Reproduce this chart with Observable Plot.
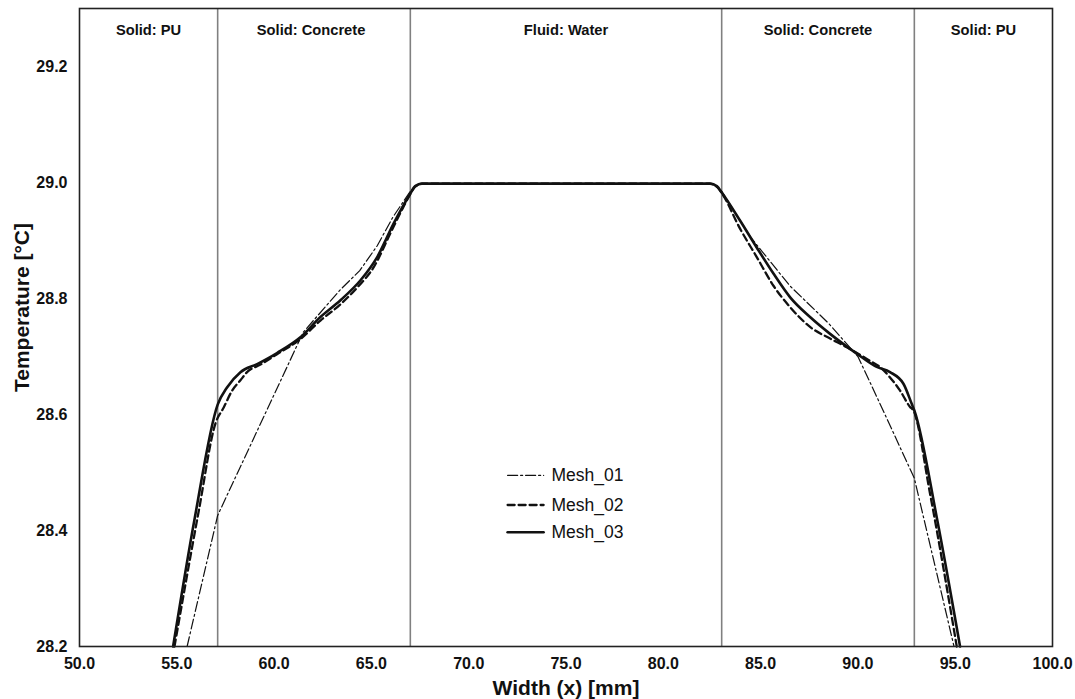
<!DOCTYPE html>
<html>
<head>
<meta charset="utf-8">
<script src="https://cdn.jsdelivr.net/npm/d3@7"></script>
<script src="https://cdn.jsdelivr.net/npm/@observablehq/plot@0.6"></script>
<style>
  html, body { margin: 0; padding: 0; background: #fff; }
  #chart { width: 1075px; height: 699px; }
</style>
</head>
<body>
<div id="chart"></div>
<script>
// ---- data ----
const xTicks = [50, 55, 60, 65, 70, 75, 80, 85, 90, 95, 100];
const yTicks = [28.2, 28.4, 28.6, 28.8, 29.0, 29.2];

const regionLabels = ["Solid: PU", "Solid: Concrete", "Fluid: Water", "Solid: Concrete", "Solid: PU"];
const regionLabelX = [53.55, 61.9, 75.0, 87.95, 96.45];
const boundaries = [57.1, 67.0, 83.0, 92.9];

const seriesNames = ["Mesh_01", "Mesh_02", "Mesh_03"];

const x01 = [55.53, 57.1, 61.5, 63.4, 64.4, 65.3, 66.1, 67.0, 67.5, 82.5, 83.0, 84.5, 86.5, 88.5, 90.0, 91.2, 92.9, 94.94];
const y01 = [28.2, 28.426, 28.742, 28.815, 28.848, 28.891, 28.94, 28.985, 28.998, 28.998, 28.985, 28.905, 28.822, 28.757, 28.70, 28.614, 28.49, 28.2];

const x02 = [54.88, 56.13, 56.99, 57.41, 57.84, 58.27, 58.61, 59.3, 60.15, 61.35, 62.38, 63.41, 64.3, 65.12, 65.97, 66.6, 67.0, 67.25, 67.6, 82.4, 82.75, 83.0, 83.95, 84.81, 85.66, 86.52, 87.54, 88.57, 89.43, 90.5, 91.2, 91.65, 92.17, 92.68, 92.85, 93.71, 95.08];
const y02 = [28.2, 28.434, 28.585, 28.612, 28.641, 28.659, 28.673, 28.686, 28.704, 28.73, 28.762, 28.79, 28.82, 28.854, 28.912, 28.955, 28.98, 28.993, 28.998, 28.998, 28.993, 28.982, 28.92, 28.871, 28.822, 28.785, 28.751, 28.731, 28.716, 28.695, 28.68, 28.664, 28.641, 28.613, 28.607, 28.463, 28.2];

const x03 = [54.81, 55.93, 57.1, 57.59, 58.27, 59.13, 60.15, 61.35, 62.38, 63.41, 64.43, 65.29, 66.14, 67.0, 67.25, 67.6, 75.0, 82.4, 82.75, 83.04, 83.95, 84.8, 85.66, 86.52, 87.54, 88.57, 89.94, 90.97, 91.65, 92.34, 92.77, 92.9, 94.05, 95.25];
const y03 = [28.2, 28.423, 28.617, 28.647, 28.673, 28.687, 28.706, 28.733, 28.768, 28.797, 28.831, 28.871, 28.929, 28.981, 28.994, 28.998, 28.998, 28.998, 28.994, 28.981, 28.934, 28.888, 28.843, 28.802, 28.768, 28.739, 28.705, 28.682, 28.673, 28.653, 28.618, 28.607, 28.423, 28.2];

// ---- build ----
const toRows = (xs, ys) => xs.map((x, i) => ({x, y: ys[i]}));
const mesh01 = toRows(x01, y01);
const mesh02 = toRows(x02, y02);
const mesh03 = toRows(x03, y03);

const styles = {
  Mesh_01: {stroke: "#111", strokeWidth: 1.2, strokeDasharray: "10,3,2,3"},
  Mesh_02: {stroke: "#111", strokeWidth: 2.3, strokeDasharray: "7,4"},
  Mesh_03: {stroke: "#111", strokeWidth: 2.6}
};

// legend rows (inside plot, data coordinates)
const legendLineX = [72.0, 73.85];
const legendTextX = 74.25;
const legendY = [28.495, 28.444, 28.397];
const legendRows = seriesNames.map((name, i) => ({name, y: legendY[i]}));

const regions = regionLabels.map((t, i) => ({t, x: regionLabelX[i]}));

const fmt = d3.format(".1f");
const font = "'Liberation Sans', Arial, Helvetica, sans-serif";

const chart = Plot.plot({
  width: 1075,
  height: 699,
  marginLeft: 79,
  marginRight: 23,
  marginTop: 8,
  marginBottom: 53,
  style: {fontFamily: font, fontSize: "16px", background: "#fff", color: "#111"},
  x: {domain: [50, 100]},
  y: {domain: [28.2, 29.3]},
  marks: [
    Plot.axisX({ticks: xTicks, tickFormat: fmt, tickSize: 0, tickPadding: 11, label: null, fontWeight: "bold", fontSize: 16}),
    Plot.axisY({ticks: yTicks, tickFormat: fmt, tickSize: 0, tickPadding: 12, label: null, fontWeight: "bold", fontSize: 16}),
    Plot.ruleX(boundaries, {stroke: "#808080", strokeWidth: 1.6}),
    Plot.text(regions, {x: "x", text: "t", frameAnchor: "top", lineAnchor: "middle", dy: 22, fontWeight: "bold", fontSize: 14.7, fill: "#111"}),
    Plot.line(mesh01, {x: "x", y: "y", ...styles.Mesh_01}),
    Plot.line(mesh02, {x: "x", y: "y", curve: "monotone-x", ...styles.Mesh_02}),
    Plot.line(mesh03, {x: "x", y: "y", curve: "monotone-x", ...styles.Mesh_03}),
    // legend
    ...legendRows.map(r => Plot.line([{x: legendLineX[0], y: r.y}, {x: legendLineX[1], y: r.y}], {x: "x", y: "y", ...styles[r.name]})),
    Plot.text(legendRows, {x: legendTextX, y: "y", text: "name", textAnchor: "start", fontSize: 17.5, fill: "#111"}),
    // axis titles
    Plot.text(["Width (x) [mm]"], {text: d => d, frameAnchor: "bottom", textAnchor: "middle", lineAnchor: "middle", dy: 42, fontWeight: "bold", fontSize: 21, fill: "#111"}),
    Plot.text(["Temperature [°C]"], {text: d => d, frameAnchor: "left", textAnchor: "middle", lineAnchor: "middle", dx: -57, dy: -20, rotate: -90, fontWeight: "bold", fontSize: 21, fill: "#111"}),
    Plot.frame({stroke: "#222", strokeWidth: 1.6})
  ]
});

document.getElementById("chart").appendChild(chart);
</script>
</body>
</html>
